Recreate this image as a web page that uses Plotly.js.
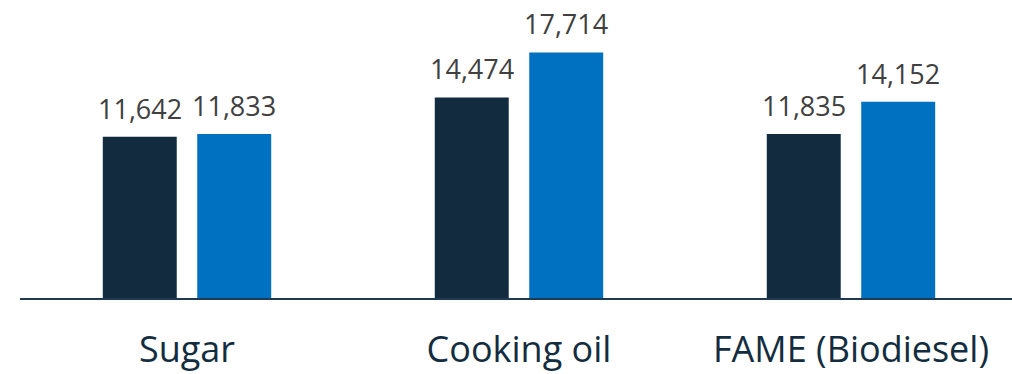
<!DOCTYPE html>
<html><head><meta charset="utf-8">
<script src="https://cdn.plot.ly/plotly-3.0.1.min.js"></script>
<style>html,body{margin:0;padding:0;background:#fff}#chart{width:1012px;height:374px}</style>
</head><body><div id="chart"></div>
<script>
const categories = ["Sugar", "Cooking oil", "FAME (Biodiesel)"];
const seriesA = [11642, 14474, 11835];
const seriesB = [11833, 17714, 14152];

const fmt = v => v.toLocaleString('en-US');
const valueFont = {family: "Open Sans, sans-serif", size: 27, color: "#404040"};

const traces = [
  {type: "bar", x: categories, y: seriesA, marker: {color: "#122b3e"}, hoverinfo: "none"},
  {type: "bar", x: categories, y: seriesB, marker: {color: "#0070c0"}, hoverinfo: "none"}
];

const annotations = [];
[seriesA, seriesB].forEach((s, i) => {
  s.forEach((v, j) => {
    annotations.push({
      x: categories[j], y: v, xref: "x", yref: "y",
      text: fmt(v), showarrow: false, yanchor: "bottom",
      xshift: i === 0 ? -47.25 : 47.25, yshift: 8, font: valueFont
    });
  });
});

const layout = {
  width: 1012, height: 374,
  margin: {l: 20, r: 0, t: 0, b: 76},
  paper_bgcolor: "#ffffff", plot_bgcolor: "#ffffff",
  barmode: "group", bargap: 0.431, bargroupgap: 0.217,
  showlegend: false,
  xaxis: {
    type: "category", range: [-0.503, 2.485],
    showline: true, linecolor: "#1d3a52", linewidth: 2,
    showgrid: false, zeroline: false, ticks: "",
    tickfont: {family: "Open Sans, sans-serif", size: 36, color: "#132d40"},
    ticklabelstandoff: 19
  },
  yaxis: {range: [0, 21500], visible: false, showgrid: false, zeroline: false},
  annotations: annotations
};

Plotly.newPlot("chart", traces, layout, {displayModeBar: false, staticPlot: true});
</script>
</body></html>
